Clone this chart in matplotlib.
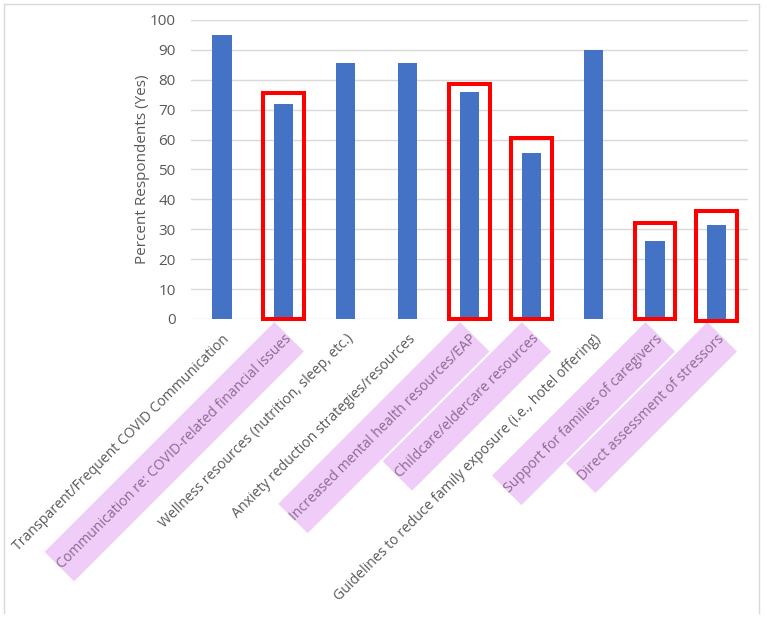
import matplotlib
matplotlib.use("Agg")
import matplotlib.pyplot as plt
from matplotlib.patches import Rectangle
from matplotlib.path import Path
from matplotlib.lines import Line2D

categories = [
    "Transparent/Frequent COVID Communication",
    "Communication re: COVID-related financial issues",
    "Wellness resources (nutrition, sleep, etc.)",
    "Anxiety reduction strategies/resources",
    "Increased mental health resources/EAP",
    "Childcare/eldercare resources",
    "Guidelines to reduce family exposure (i.e., hotel offering)",
    "Support for families of caregivers",
    "Direct assessment of stressors",
]
percent_yes = [95, 72, 85.6, 85.6, 76, 55.5, 90, 26.1, 31.4]

# items circled in red / highlighted in the label area
highlighted = [1, 4, 5, 7, 8]
box_top = [75.4, 78.6, 60.5, 32.2, 36.0]
box_bottom = [0, 0, 0, 0, -0.8]

plt.rcParams['font.family'] = ['Open Sans', 'DejaVu Sans']

fig = plt.figure(figsize=(7.67, 6.2), dpi=100)
ax = fig.add_axes([0.249, 0.4855, 0.726, 0.4825])

x = list(range(len(categories)))
ax.bar(x, percent_yes, width=0.31, color="#4472c4", zorder=2)

for i, top, bot in zip(highlighted, box_top, box_bottom):
    ax.add_patch(Rectangle((i - 0.33, bot), 0.66, top - bot, fill=False,
                           edgecolor="#ff0000", linewidth=2.9, zorder=3,
                           clip_on=False))

ax.set_xlim(-0.5, len(categories) - 0.5)
ax.set_ylim(0, 100)
ax.set_yticks(range(0, 101, 10))
ax.grid(axis="y", color="#d9d9d9", linewidth=1, zorder=0)
for s in ax.spines.values():
    s.set_visible(False)
ax.tick_params(axis="y", length=0, pad=11, labelsize=11, labelcolor="#595959")
ax.tick_params(axis="x", length=0, pad=9)
ax.set_ylabel("Percent Respondents (Yes)", fontsize=11, color="#595959", labelpad=0)


def band(x0, y0, width, height, mutation_size):
    # wide band around the label, no extra length at the ends
    padv = 0.95 * mutation_size
    return Path.unit_rectangle().transformed(
        matplotlib.transforms.Affine2D().scale(width, height + 2 * padv)
        .translate(x0, y0 - padv))


ax.set_xticks(x)
labels = ax.set_xticklabels(categories, rotation=45, ha="right", va="top",
                            rotation_mode="anchor", fontsize=10.1,
                            color="#595959")
for i in highlighted:
    labels[i].set_color("#8a6b90")
    labels[i].set_bbox(dict(boxstyle=band, facecolor="#f0cdf8",
                            edgecolor="none"))
    labels[i].set_zorder(0)

# chart border
for xs, ys in [([0.005, 0.005], [0.011, 0.994]),
               ([0.005, 0.99], [0.994, 0.994]),
               ([0.99, 0.99], [0.011, 0.994])]:
    fig.add_artist(Line2D(xs, ys, color="#d9d9d9", linewidth=1,
                          transform=fig.transFigure))

fig.savefig("out.png", dpi=100)
